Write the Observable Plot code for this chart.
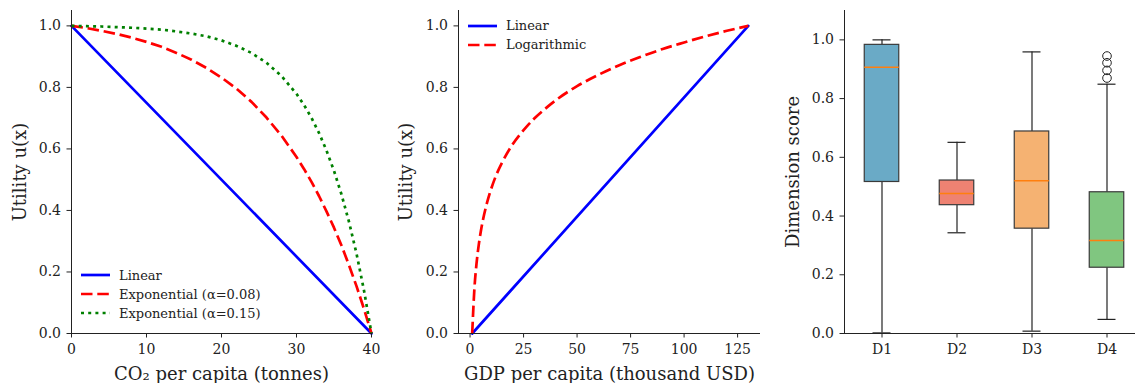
<!DOCTYPE html>
<html><head><meta charset="utf-8">
<script src="https://cdn.jsdelivr.net/npm/d3@7"></script>
<script src="https://cdn.jsdelivr.net/npm/@observablehq/plot@0.6"></script>
<style>
html,body{margin:0;padding:0;background:#fff;overflow:hidden}
#wrap{position:relative;width:1135px;height:383px;overflow:hidden;font-family:"DejaVu Serif",serif;background:#fff}
.panel{position:absolute;top:0}
.legend{position:absolute;font-size:13px;color:#222;font-family:"DejaVu Serif",serif}
.legend .row{display:flex;align-items:center;height:19px;white-space:nowrap}
.legend .row svg{margin-right:9px;display:block}
</style></head><body><div id="wrap"></div>
<script>
// ---------- Panel 1: CO2 utility ----------
const co2X      = [0,2,4,6,8,10,12,14,16,18,20,22,24,26,28,30,31,32,33,34,35,36,37,38,39,40];
const co2Exp008 = [1.000,0.993,0.984,0.974,0.962,0.948,0.932,0.912,0.890,0.863,0.832,0.796,0.753,0.702,0.643,0.574,0.535,0.493,0.447,0.397,0.344,0.286,0.222,0.154,0.080,0.000];
const co2Exp015 = [1.000,0.999,0.998,0.996,0.994,0.991,0.988,0.982,0.975,0.966,0.953,0.935,0.912,0.880,0.837,0.779,0.743,0.701,0.652,0.595,0.529,0.452,0.363,0.260,0.140,0.000];
const co2LinX   = [0,40];
const co2LinY   = [1,0];
const co2Ticks  = [0,10,20,30,40];
const co2Legend = ["Linear","Exponential (\u03b1=0.08)","Exponential (\u03b1=0.15)"];

// ---------- Panel 2: GDP utility ----------
const gdpX      = [1,2,3,4,5,6,8,10,12,15,20,25,30,35,40,50,60,70,80,90,100,110,120,130];
const gdpLog    = [0.000,0.142,0.226,0.285,0.331,0.368,0.427,0.473,0.511,0.556,0.616,0.661,0.699,0.730,0.758,0.804,0.841,0.873,0.900,0.925,0.946,0.966,0.984,1.000];
const gdpLinX   = [1,130];
const gdpLinY   = [0,1];
const gdpTicks  = [0,25,50,75,100,125];
const gdpLegend = ["Linear","Logarithmic"];

const utilTicks = [0,0.2,0.4,0.6,0.8,1.0];

// ---------- Panel 3: dimension box plots ----------
const dims        = ["D1","D2","D3","D4"];
const whiskerLow  = [0.002,0.343,0.008,0.048];
const q1          = [0.516,0.437,0.357,0.224];
const medians     = [0.907,0.477,0.520,0.317];
const q3          = [0.983,0.521,0.688,0.481];
const whiskerHigh = [1.000,0.651,0.959,0.849];
const boxColors   = ["#6aaac6","#ee8272","#f5b272","#80c680"];
const d4Outliers  = [0.870,0.896,0.922,0.945];

const FONT = "DejaVu Serif";
const ink = "#222";
const LABEL = 18;
const TICK = 14;
const tickOpts = {tickSize: 4.5, tickPadding: 6, label: null, stroke: ink, fill: ink, fontSize: TICK};
const svgStyle = {fontFamily: FONT, fontSize: TICK + "px", background: "transparent", color: ink};

function place(el, left) {
  const d = document.createElement("div");
  d.className = "panel"; d.style.left = left + "px";
  d.appendChild(el);
  document.getElementById("wrap").appendChild(d);
}

function legend(items, left, top) {
  const d = document.createElement("div");
  d.className = "legend"; d.style.left = left + "px"; d.style.top = top + "px";
  for (const it of items) {
    const r = document.createElement("div"); r.className = "row";
    r.innerHTML = `<svg width="29" height="6"><line x1="0" y1="3" x2="29" y2="3" stroke="${it.color}" stroke-width="2.7" ${it.dash ? `stroke-dasharray="${it.dash}"` : ""}/></svg><span>${it.label}</span>`;
    d.appendChild(r);
  }
  document.getElementById("wrap").appendChild(d);
}

const DASH = "11.5,4.8";
const DOT = "3,4.2";
const LW = 2.7;

function yLabel(text, dx) {
  return Plot.text([text], {frameAnchor: "left", dx, rotate: -90, textAnchor: "middle", lineAnchor: "middle", fontSize: LABEL, fill: ink});
}
function xLabel(text) {
  return Plot.text([text], {frameAnchor: "bottom", dy: 40.5, textAnchor: "middle", lineAnchor: "middle", fontSize: LABEL, fill: ink});
}

// Panel 1
const p1 = Plot.plot({
  width: 380, height: 383, marginLeft: 71, marginRight: 9, marginTop: 10, marginBottom: 50,
  style: svgStyle,
  x: {domain: [0, 40]},
  y: {domain: [0, 1.05]},
  marks: [
    Plot.line(co2LinX.map((x, i) => ({x, y: co2LinY[i]})), {x: "x", y: "y", stroke: "#0000ff", strokeWidth: LW}),
    Plot.line(co2X.map((x, i) => ({x, y: co2Exp008[i]})), {x: "x", y: "y", stroke: "#ff0000", strokeWidth: LW, strokeDasharray: DASH, strokeLinecap: "butt"}),
    Plot.line(co2X.map((x, i) => ({x, y: co2Exp015[i]})), {x: "x", y: "y", stroke: "#008000", strokeWidth: LW, strokeDasharray: DOT, strokeLinecap: "butt"}),
    Plot.ruleX([0], {stroke: ink, strokeWidth: 1}),
    Plot.ruleY([0], {stroke: ink, strokeWidth: 1}),
    Plot.axisX({...tickOpts, ticks: co2Ticks, tickFormat: d3.format("d")}),
    Plot.axisY({...tickOpts, ticks: utilTicks, tickFormat: d3.format(".1f")}),
    yLabel("Utility u(x)", -51),
    xLabel("CO\u2082 per capita (tonnes)")
  ]
});
place(p1, 0);

// Panel 2
const gdpDomain = [-5.4, 135.7];
const p2 = Plot.plot({
  width: 380, height: 383, marginLeft: 78, marginRight: 0, marginTop: 10, marginBottom: 50,
  style: svgStyle,
  x: {domain: gdpDomain},
  y: {domain: [0, 1.05]},
  marks: [
    Plot.line(gdpLinX.map((x, i) => ({x, y: gdpLinY[i]})), {x: "x", y: "y", stroke: "#0000ff", strokeWidth: LW}),
    Plot.line(gdpX.map((x, i) => ({x, y: gdpLog[i]})), {x: "x", y: "y", stroke: "#ff0000", strokeWidth: LW, strokeDasharray: DASH, strokeLinecap: "butt", curve: "monotone-x"}),
    Plot.ruleX([gdpDomain[0]], {stroke: ink, strokeWidth: 1}),
    Plot.ruleY([0], {stroke: ink, strokeWidth: 1}),
    Plot.axisX({...tickOpts, ticks: gdpTicks, tickFormat: d3.format("d")}),
    Plot.axisY({...tickOpts, ticks: utilTicks, tickFormat: d3.format(".1f")}),
    yLabel("Utility u(x)", -52),
    xLabel("GDP per capita (thousand USD)")
  ]
});
place(p2, 380);

// Panel 3
const boxes = dims.map((d, i) => ({
  name: d, pos: i + 1, low: whiskerLow[i], q1: q1[i], med: medians[i], q3: q3[i], high: whiskerHigh[i], color: boxColors[i]
}));
const HALF = 0.23, CAP = 0.12;
const boxDomain = [0.5, 4.38];
const p3 = Plot.plot({
  width: 375, height: 383, marginLeft: 84, marginRight: 0, marginTop: 10, marginBottom: 50,
  style: svgStyle,
  x: {domain: boxDomain},
  y: {domain: [0, 1.1]},
  color: {type: "identity"},
  marks: [
    Plot.ruleX(boxes, {x: "pos", y1: "low", y2: "q1", stroke: ink, strokeWidth: 1.2}),
    Plot.ruleX(boxes, {x: "pos", y1: "q3", y2: "high", stroke: ink, strokeWidth: 1.2}),
    Plot.ruleY(boxes, {y: "low", x1: d => d.pos - CAP, x2: d => d.pos + CAP, stroke: ink, strokeWidth: 1.2}),
    Plot.ruleY(boxes, {y: "high", x1: d => d.pos - CAP, x2: d => d.pos + CAP, stroke: ink, strokeWidth: 1.2}),
    Plot.rect(boxes, {x1: d => d.pos - HALF, x2: d => d.pos + HALF, y1: "q1", y2: "q3", fill: "color", stroke: "#3a3a3a", strokeWidth: 1.2}),
    Plot.ruleY(boxes, {y: "med", x1: d => d.pos - HALF, x2: d => d.pos + HALF, stroke: "#ff7f0e", strokeWidth: 1.5}),
    Plot.dot(d4Outliers, {x: () => 4, y: d => d, r: 4.3, stroke: ink, fill: "none", strokeWidth: 1}),
    Plot.ruleX([boxDomain[0]], {stroke: ink, strokeWidth: 1}),
    Plot.ruleY([0], {stroke: ink, strokeWidth: 1}),
    Plot.axisX({...tickOpts, ticks: [1, 2, 3, 4], tickFormat: d => dims[d - 1]}),
    Plot.axisY({...tickOpts, ticks: utilTicks, tickFormat: d3.format(".1f")}),
    yLabel("Dimension score", -51)
  ]
});
place(p3, 760);

legend([
  {label: co2Legend[0], color: "#0000ff"},
  {label: co2Legend[1], color: "#ff0000", dash: DASH},
  {label: co2Legend[2], color: "#008000", dash: DOT}
], 81, 265.5);
legend([
  {label: gdpLegend[0], color: "#0000ff"},
  {label: gdpLegend[1], color: "#ff0000", dash: DASH}
], 468, 16);
</script>
</body></html>
